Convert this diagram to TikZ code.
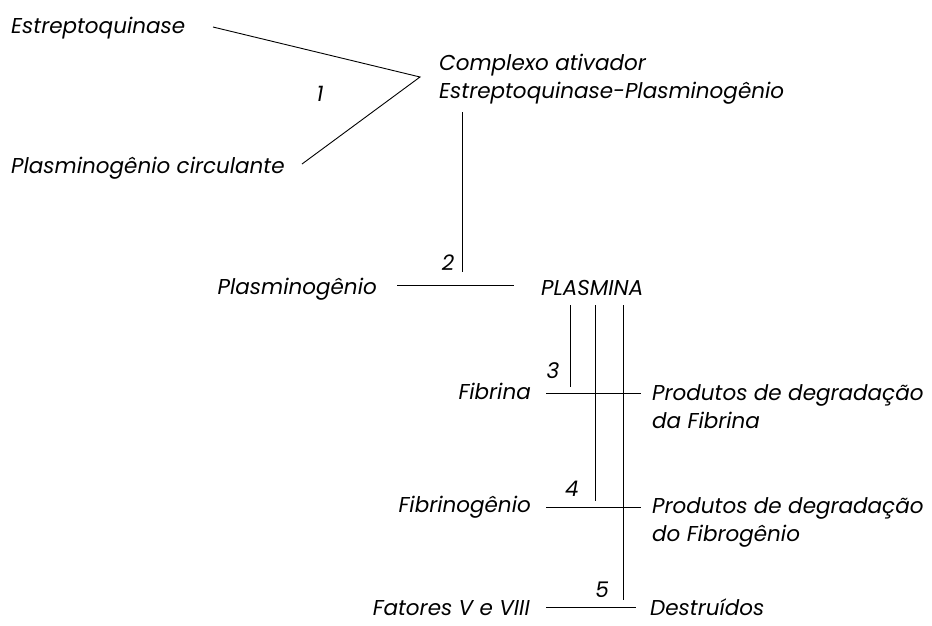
\documentclass[tikz,border=0pt]{standalone}
\usepackage{fontspec}
\setmainfont{Poppins}
\begin{document}
\begin{tikzpicture}[x=1pt,y=-1pt,
  lbl/.style={inner sep=0pt,font=\fontsize{21.5}{28}\selectfont\itshape},
  lblw/.style={lbl,anchor=mid west},
  lble/.style={lbl,anchor=mid east},
  num/.style={lbl,anchor=center},
  conn/.style={line width=0.9pt,black}]
\useasboundingbox (0,0) rectangle (932,625);
\fill[white] (0,0) rectangle (932,625);
% texts
\node[lblw] (strep) at (11,31) {Estreptoquinase};
\node[lblw] (plgc) at (11,171) {Plasminogênio circulante};
\node[lbl,anchor=north west,align=left] (complexo) at (439,54) {Complexo ativador\\Estreptoquinase-Plasminogênio};
\node[num] (n1) at (320,94) {1};
\node[num] (n2) at (448,263) {2};
\node[lble] (plg) at (377,292) {Plasminogênio};
\node[lblw] (plasmina) at (541,293) {PLASMINA};
\node[num] (n3) at (553,371) {3};
\node[lble] (fibrina) at (531,397) {Fibrina};
\node[lbl,anchor=north west,align=left] (pdf1) at (652,384) {Produtos de degradação\\da Fibrina};
\node[num] (n4) at (572,489) {4};
\node[lble] (fibrinog) at (531,510) {Fibrinogênio};
\node[lbl,anchor=north west,align=left] (pdf2) at (652,497) {Produtos de degradação\\do Fibrogênio};
\node[num] (n5) at (602,590) {5};
\node[lble] (fatores) at (530,613) {Fatores V e VIII};
\node[lblw] (destr) at (650,613) {Destruídos};
% connector end points
\coordinate (strepE) at (213,27);
\coordinate (plgcE) at (302,164);
\coordinate (apex) at (420,77);
\coordinate (v2top) at (462,112);
\coordinate (v2bot) at (462,272);
\coordinate (h2a) at (397,285);
\coordinate (h2b) at (514,285);
\coordinate (vaT) at (570,305);
\coordinate (vaB) at (570,387);
\coordinate (vbT) at (595,305);
\coordinate (vbB) at (595,501);
\coordinate (vcT) at (623,305);
\coordinate (vcB) at (623,600);
\coordinate (h3a) at (546,393);
\coordinate (h3b) at (641,393);
\coordinate (h4a) at (546,507);
\coordinate (h4b) at (641,507);
\coordinate (h5a) at (546,607);
\coordinate (h5b) at (636,607);
% connectors
\draw[conn] (strepE) -- (apex) -- (plgcE);
\draw[conn] (v2top) -- (v2bot);
\draw[conn] (h2a) -- (h2b);
\draw[conn] (vaT) -- (vaB);
\draw[conn] (vbT) -- (vbB);
\draw[conn] (vcT) -- (vcB);
\draw[conn] (h3a) -- (h3b);
\draw[conn] (h4a) -- (h4b);
\draw[conn] (h5a) -- (h5b);
\end{tikzpicture}
\end{document}
